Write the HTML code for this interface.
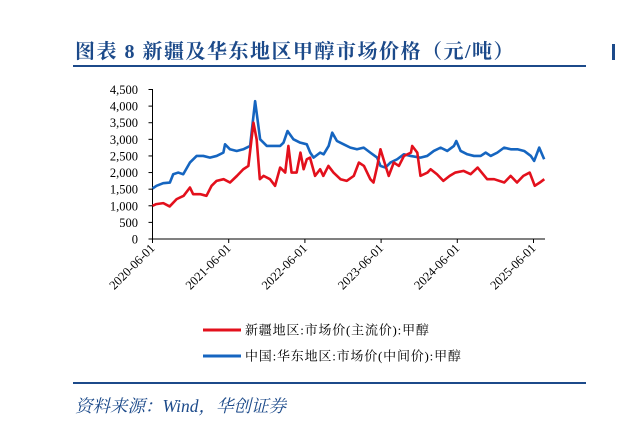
<!DOCTYPE html>
<html><head><meta charset="utf-8"><style>
body{margin:0;background:#fff;width:620px;height:424px;overflow:hidden;position:relative;font-family:"Liberation Serif","Noto Serif CJK SC",serif}
.t{position:absolute;left:75px;top:35px;font-size:20px;font-weight:bold;color:#1c4a8a;letter-spacing:1.5px;font-family:"Liberation Serif","Noto Serif CJK SC",serif}
.hl{position:absolute;left:73px;width:513px;height:2px;background:#1c4a8a}
.src{position:absolute;left:75px;top:393px;font-size:17.5px;font-style:italic;color:#1c4a8a;font-family:"Liberation Serif","Noto Serif CJK SC",serif}
</style></head><body>
<div class="t">图表 8 新疆及华东地区甲醇市场价格（元/吨）</div>
<div class="hl" style="top:65px"></div>
<div style="position:absolute;left:612px;top:44px;width:3px;height:16px;background:#1c4a8a"></div>
<svg id="c" width="620" height="424" style="position:absolute;left:0;top:0"></svg>
<div class="hl" style="top:382px"></div>
<div class="src">资料来源：Wind，华创证券</div>
<script>
const tickLabels=["2020-06-01","2021-06-01","2022-06-01","2023-06-01","2024-06-01","2025-06-01"];
const yTicks=[0,500,1000,1500,2000,2500,3000,3500,4000,4500];
const blueMonths=[0,0.63,1.68,2.74,3.26,4.05,4.84,5.89,6.95,8.0,9.05,10.1,11.16,11.42,12.2,13.26,14.3,15.37,16.16,16.95,18.0,19.05,20.1,20.63,21.26,22.2,23.26,24.3,24.84,25.37,26.4,26.95,27.74,28.3,29.05,30.1,31.16,32.2,33.26,34.3,35.37,35.9,36.68,37.47,38.53,39.58,40.63,42.2,43.26,44.3,45.37,46.42,47.47,47.84,48.53,49.58,50.63,51.68,52.47,53.26,54.3,55.37,56.42,57.47,58.53,59.58,60.1,60.9,61.68];
const blueVals=[1520,1600,1680,1700,1950,2000,1950,2300,2500,2500,2450,2500,2600,2850,2700,2650,2700,2800,4150,3000,2800,2800,2800,2900,3250,3000,2900,2850,2600,2450,2600,2550,2800,3200,2950,2850,2750,2700,2750,2600,2450,2200,2150,2300,2400,2550,2500,2450,2500,2650,2750,2650,2800,2950,2650,2550,2500,2500,2600,2500,2600,2750,2700,2700,2650,2500,2350,2750,2400];
const redMonths=[0,0.6,1.7,2.7,3.8,4.9,5.9,6.4,7.5,8.5,9.3,10.1,11.2,12.2,13.3,14.3,15.1,15.9,16.4,16.9,17.5,18.5,19.3,20.1,20.9,21.4,21.9,22.7,23.3,23.8,24.3,24.8,25.6,26.4,26.9,27.7,28.5,29.6,30.6,31.7,32.5,33.3,34.3,34.8,35.4,35.9,36.7,37.2,38.0,38.8,39.6,40.7,40.9,41.7,42.2,43.3,43.8,44.8,45.8,46.8,47.7,49.0,50.1,51.2,52.7,53.8,55.4,56.4,57.4,58.4,59.4,60.2,61.0,61.7];
const redVals=[1000,1050,1080,980,1200,1300,1550,1350,1350,1300,1600,1750,1800,1700,1900,2100,2200,3500,3000,1800,1900,1800,1600,2150,2000,2800,2000,2000,2600,2100,2400,2450,1900,2100,1900,2200,2000,1800,1750,1900,2300,2200,1800,1700,2200,2700,2200,1900,2300,2200,2500,2600,2800,2600,1900,2000,2100,1950,1750,1900,2000,2050,1950,2150,1800,1800,1700,1900,1700,1900,2000,1600,1700,1800];
const x0=152.5,pxM=6.35,y0=239,pxV=149.5/4500;
const X=m=>x0+m*pxM, Y=v=>y0-v*pxV;
const svg=document.getElementById('c');const NS="http://www.w3.org/2000/svg";
function mk(t,a){const e=document.createElementNS(NS,t);for(const k in a)e.setAttribute(k,a[k]);svg.appendChild(e);return e;}
let e=mk('line',{x1:x0,y1:89,x2:x0,y2:y0,stroke:'#000','stroke-width':1});


e=mk('line',{x1:x0,y1:y0,x2:545,y2:y0,stroke:'#000','stroke-width':1});


yTicks.forEach(v=>{const t=mk('text',{x:138,y:Y(v)+4.5,'text-anchor':'end','font-size':'12.5','font-family':'Liberation Serif, serif'});t.textContent=v.toLocaleString('en-US');


mk('line',{x1:x0-4,y1:Y(v),x2:x0,y2:Y(v),stroke:'#000'});});
tickLabels.forEach((s,i)=>{const x=X(i*12);mk('line',{x1:x,y1:y0,x2:x,y2:y0+4,stroke:'#000'});
const t=mk('text',{x:x+3,y:y0+10,'text-anchor':'end','font-size':'12.5','font-family':'Liberation Serif, serif',transform:`rotate(-45 ${x+3} ${y0+10})`});t.textContent=s;

});
function line(ms,vs,c,n){const p=mk('polyline',{points:ms.map((m,i)=>X(m)+','+Y(vs[i])).join(' '),fill:'none',stroke:c,'stroke-width':2.6,'stroke-linejoin':'round'});

}
line(blueMonths,blueVals,'#1565c0','series-east-china');
line(redMonths,redVals,'#e3101c','series-xinjiang');
[[330,'#e3101c','新疆地区:市场价(主流价):甲醇','legend-xinjiang'],[356,'#1565c0','中国:华东地区:市场价(中间价):甲醇','legend-east-china']].forEach(([y,c,s,n])=>{
const g=mk('g',{});

const l=document.createElementNS(NS,'line');[['x1',203],['x2',241],['y1',y],['y2',y],['stroke',c],['stroke-width',3]].forEach(([k,v])=>l.setAttribute(k,v));g.appendChild(l);
const t=document.createElementNS(NS,'text');t.setAttribute('x',245);t.setAttribute('y',y+4.5);t.setAttribute('font-size','13');t.setAttribute('letter-spacing','0.8');t.setAttribute('font-family','Liberation Serif, Noto Serif CJK SC, serif');t.textContent=s;g.appendChild(t);});
</script>
</body></html>
